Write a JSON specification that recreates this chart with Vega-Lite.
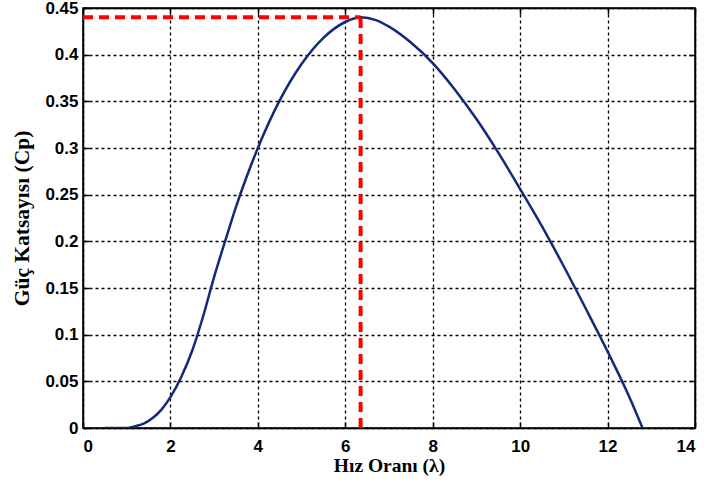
{
  "$schema": "https://vega.github.io/schema/vega-lite/v6.json",
  "autosize": {"type": "none"},
  "width": 612,
  "height": 420,
  "padding": {"left": 83, "top": 8, "right": 12, "bottom": 58},
  "background": "white",
  "config": {
    "view": {"stroke": "black", "strokeWidth": 1.5},
    "axis": {
      "domainColor": "black",
      "domainWidth": 1.5,
      "tickColor": "black",
      "tickWidth": 1.5,
      "tickSize": -6,
      "labelFont": "Liberation Sans",
      "labelFontWeight": "bold",
      "labelFontSize": 17,
      "labelColor": "black",
      "titleFont": "Liberation Serif",
      "titleFontWeight": "bold",
      "titleFontSize": 19.5,
      "titleColor": "black",
      "gridColor": "black",
      "gridDash": [3, 3],
      "gridWidth": 1.3,
      "gridOpacity": 1
    }
  },
  "datasets": {
    "curve": [
      {"x": 0.5, "y": 0},
      {"x": 1.0, "y": 0.0},
      {"x": 1.2, "y": 0.002},
      {"x": 1.4, "y": 0.005},
      {"x": 1.6, "y": 0.011},
      {"x": 1.8, "y": 0.02},
      {"x": 2.0, "y": 0.033},
      {"x": 2.25, "y": 0.055},
      {"x": 2.5, "y": 0.083},
      {"x": 2.75, "y": 0.12},
      {"x": 3.0, "y": 0.162},
      {"x": 3.25, "y": 0.2},
      {"x": 3.5, "y": 0.237},
      {"x": 3.75, "y": 0.27},
      {"x": 4.0, "y": 0.3},
      {"x": 4.5, "y": 0.351},
      {"x": 5.0, "y": 0.39},
      {"x": 5.5, "y": 0.418},
      {"x": 6.0, "y": 0.435},
      {"x": 6.35, "y": 0.44},
      {"x": 6.7, "y": 0.437},
      {"x": 7.0, "y": 0.43},
      {"x": 7.5, "y": 0.413},
      {"x": 8.0, "y": 0.391},
      {"x": 8.5, "y": 0.363},
      {"x": 9.0, "y": 0.331},
      {"x": 9.5, "y": 0.295},
      {"x": 10.0, "y": 0.256},
      {"x": 10.5, "y": 0.216},
      {"x": 11.0, "y": 0.173},
      {"x": 11.5, "y": 0.128},
      {"x": 12.0, "y": 0.082},
      {"x": 12.5, "y": 0.033},
      {"x": 12.8, "y": 0.0}
    ],
    "guides": [
      {"x": 0, "y": 0.44, "x2": 6.35, "y2": 0.44},
      {"x": 6.35, "y": 0, "x2": 6.35, "y2": 0.44}
    ]
  },
  "resolve": {"scale": {"x": "independent", "y": "independent"}, "axis": {"x": "independent", "y": "independent"}},
  "layer": [
    {
      "layer": [
        {
          "data": {"name": "curve"},
          "mark": {"type": "line", "color": "#13297a", "strokeWidth": 2.5, "interpolate": "monotone", "clip": true},
          "encoding": {
            "x": {
              "field": "x", "type": "quantitative",
              "scale": {"domain": [0, 14], "nice": false},
              "axis": {"values": [0, 2, 4, 6, 8, 10, 12, 14], "title": "Hız Oranı (λ)", "grid": true, "titlePadding": 2, "labelPadding": 16}
            },
            "y": {
              "field": "y", "type": "quantitative",
              "scale": {"domain": [0, 0.45], "nice": false},
              "axis": {"values": [0, 0.05, 0.1, 0.15, 0.2, 0.25, 0.3, 0.35, 0.4, 0.45], "format": "~f", "title": "Güç Katsayısı (Cp)", "titleFontSize": 21.5, "grid": true, "titlePadding": 11, "labelPadding": 11}
            }
          }
        },
        {
          "data": {"name": "guides"},
          "mark": {"type": "rule", "color": "#ff0000", "strokeWidth": 4, "strokeDash": [10, 6]},
          "encoding": {
            "x": {"field": "x", "type": "quantitative"},
            "y": {"field": "y", "type": "quantitative"},
            "x2": {"field": "x2"},
            "y2": {"field": "y2"}
          }
        }
      ]
    },
    {
      "data": {"name": "curve"},
      "mark": {"type": "point", "opacity": 0},
      "encoding": {
        "x": {
          "field": "x", "type": "quantitative",
          "scale": {"domain": [0, 14], "nice": false},
          "axis": {"orient": "top", "values": [0, 2, 4, 6, 8, 10, 12, 14], "labels": false, "title": null, "grid": false}
        },
        "y": {
          "field": "y", "type": "quantitative",
          "scale": {"domain": [0, 0.45], "nice": false},
          "axis": {"orient": "right", "values": [0, 0.05, 0.1, 0.15, 0.2, 0.25, 0.3, 0.35, 0.4, 0.45], "labels": false, "title": null, "grid": false}
        }
      }
    }
  ]
}
